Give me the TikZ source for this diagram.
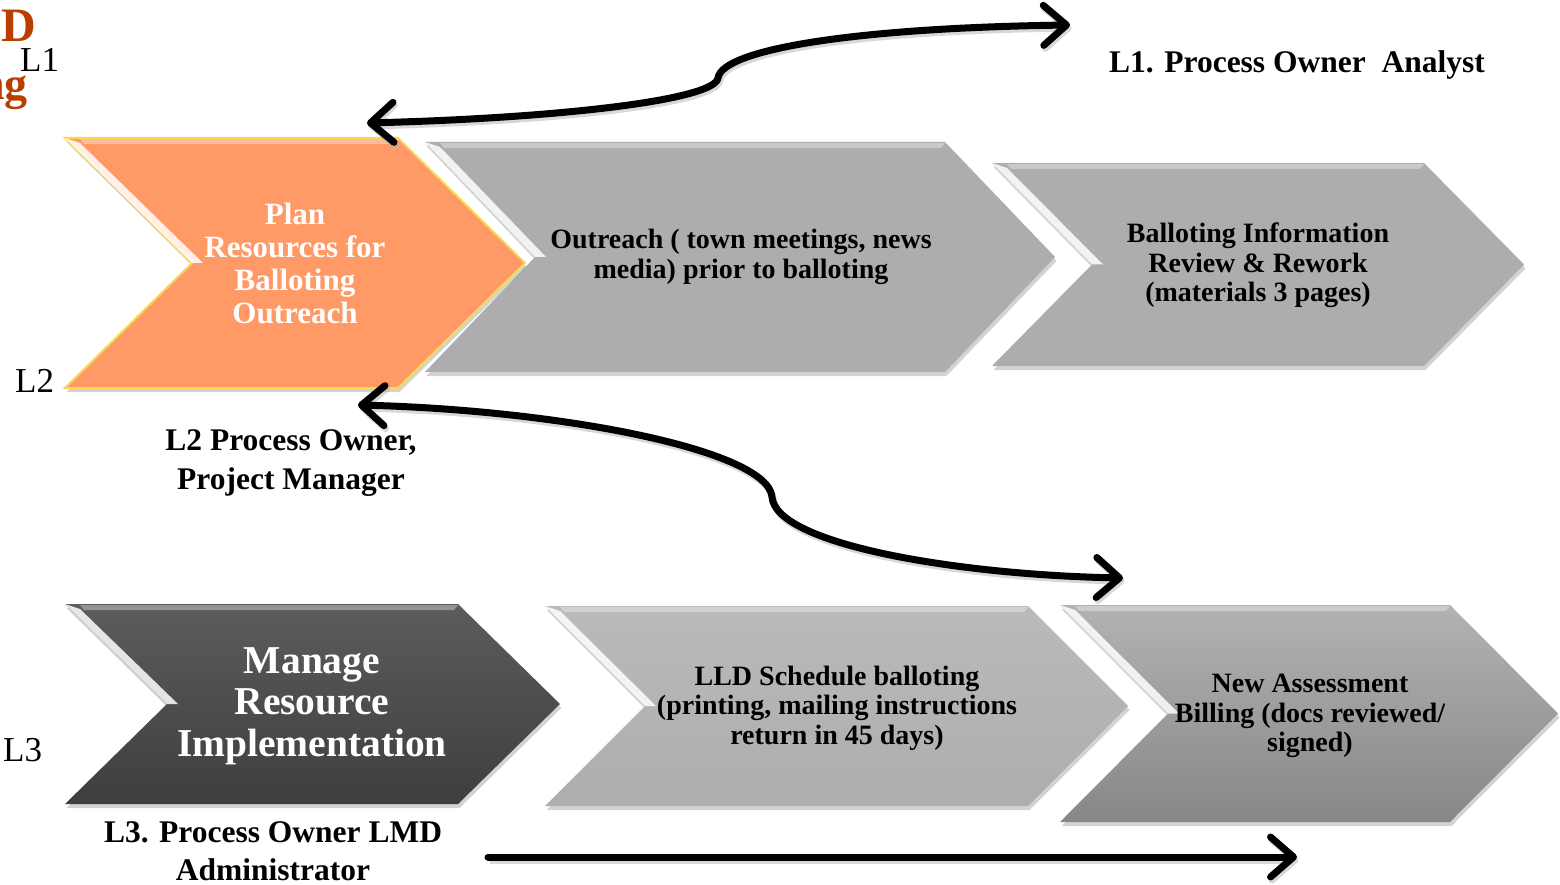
\documentclass[tikz,border=0pt]{standalone}
\usepackage{fontspec}
\setmainfont{Liberation Serif}
\usetikzlibrary{arrows.meta,shadows}

\definecolor{peach}{RGB}{255,153,102}
\definecolor{peachedge}{RGB}{246,216,86}
\definecolor{stepgray}{RGB}{173,173,173}
\definecolor{darkstepA}{RGB}{92,92,92}
\definecolor{darkstepB}{RGB}{62,62,62}
\definecolor{rust}{RGB}{186,62,0}

% chevron outline: #1 options, #2 left x, #3 tip x, #4 top y, #5 bottom y, #6 depth
\newcommand\chevron[6][]{%
  \path[#1] (#2,#4) -- ({#3-#6},#4) -- (#3,{(#4+#5)/2}) -- ({#3-#6},#5)
    -- (#2,#5) -- ({#2+#6},{(#4+#5)/2}) -- cycle;
  % bevel light along the upper notch edge and the top edge
  \fill[white,opacity=.85] (#2,#4) -- ({#2+#6},{(#4+#5)/2}) -- ({#2+#6+11},{(#4+#5)/2})
    -- ({#2+15},{#4+5}) -- cycle;
  \fill[white,opacity=.35] ({#2+15},{#4+1}) -- ({#3-#6},{#4+1}) -- ({#3-#6-4},{#4+6})
    -- ({#2+19},{#4+6}) -- cycle;
}

\tikzset{
  stepshade/.style={drop shadow={opacity=.35,shadow xshift=1.5pt,shadow yshift=-4pt}},
  steptext/.style={align=center,inner sep=0pt,font=\bfseries\fontsize{28}{29.5}\selectfont},
  ownerlabel/.style={align=center,inner sep=0pt,font=\bfseries\fontsize{31.5}{38.5}\selectfont},
  levellabel/.style={inner sep=0pt,font=\fontsize{35}{35}\selectfont},
  barb/.tip={Straight Barb[length=23pt,width=40pt,round]},
  bigarrow/.style={line width=7pt,line cap=round,
    preaction={draw=black!30,opacity=.5,line width=7pt,transform canvas={xshift=1.5pt,yshift=-3pt}}},
}

\begin{document}
\begin{tikzpicture}[x=1pt,y=-1pt]
\useasboundingbox (0,0) rectangle (1560,885);

% first row of steps
\chevron[fill=stepgray,stepshade]{425}{1055}{142}{372}{110}
\chevron[fill=stepgray,stepshade]{992}{1524}{163}{366}{100}
\chevron[fill=peach,draw=peachedge,line width=2pt,stepshade]{65}{525}{138}{388}{127}

% second row of steps
\chevron[top color=darkstepA,bottom color=darkstepB,stepshade]{65}{560}{604}{804}{102}
\chevron[top color=black!27,bottom color=black!32,stepshade]{545}{1128}{606}{806}{100}
\chevron[top color=black!30,bottom color=black!47,stepshade]{1060}{1558}{605}{822}{108}

% step texts
\node[steptext,text=white,font=\bfseries\fontsize{31}{33}\selectfont] (plan) at (295,263)
  {Plan\\Resources for\\Balloting\\Outreach};
\node[steptext] (outreach) at (741,257)
  {Outreach ( town meetings, news\\media) prior to balloting};
\node[steptext] (review) at (1258,265.5)
  {Balloting Information\\Review \& Rework\\(materials 3 pages)};
\node[steptext,text=white,font=\bfseries\fontsize{39.5}{41.5}\selectfont] (manage) at (312,706)
  {Manage\\Resource\\Implementation};
\node[steptext] (schedule) at (837,708)
  {LLD Schedule balloting\\(printing, mailing instructions\\return in 45 days)};
\node[steptext] (billing) at (1310,716)
  {New Assessment\\Billing (docs reviewed/\\signed)};

% level markers and heading remnants
\node[anchor=base east,inner sep=0pt,text=rust,font=\bfseries\fontsize{48}{48}\selectfont] (hdD) at (36,42) {D};
\node[anchor=base east,inner sep=0pt,text=rust,font=\bfseries\fontsize{46}{46}\selectfont] (hdG) at (28,100) {ng};
\node[levellabel,anchor=base west] (lvl1) at (20,72) {L1};
\node[levellabel,anchor=base west] (lvl2) at (15,392) {L2};
\node[levellabel,anchor=base west] (lvl3) at (3,761) {L3};

% owners
\node[ownerlabel] (own1) at (1297,65) {L1. Process Owner\ \ Analyst};
\node[ownerlabel] (own2) at (291,463) {L2 Process Owner,\\Project Manager};
\node[ownerlabel] (own3) at (273,851) {L3. Process Owner LMD\\Administrator};

% connectors
\coordinate (a1l) at (367,123);
\coordinate (a1k) at (718,78);
\coordinate (a1r) at (1070,25);
\coordinate (a2l) at (358,405);
\coordinate (a2k) at (772,497);
\coordinate (a2r) at (1123,578);
\coordinate (a3l) at (488,857);
\coordinate (a3r) at (1297,857);

\draw[bigarrow,{barb}-{barb}] (a1l) .. controls (560,118) and (715,100) .. (a1k)
  .. controls (722,50) and (850,28) .. (a1r);
\draw[bigarrow,{barb}-{barb}] (a2l) .. controls (560,410) and (768,450) .. (a2k)
  .. controls (776,545) and (960,575) .. (a2r);
\draw[bigarrow,-{barb}] (a3l) -- (a3r);
\end{tikzpicture}
\end{document}
